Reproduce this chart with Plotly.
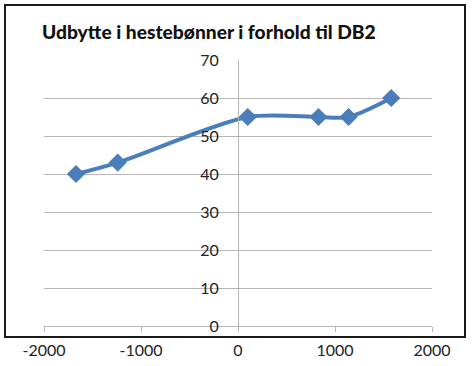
import plotly.graph_objects as go

x_vals = [-1670, -1240, 100, 830, 1140, 1580]
y_vals = [40, 43, 55, 55, 55, 60]
x_ticks = [-2000, -1000, 0, 1000, 2000]
x_tick_labels = ["-2000", "-1000", "0", "1000", "2000"]
y_ticks = [0, 10, 20, 30, 40, 50, 60, 70]
title_text = "Udbytte i hestebønner i forhold til DB2"

blue = "#4A7EBB"
grid = "#B5B5B5"

fig = go.Figure()
fig.add_trace(go.Scatter(
    x=x_vals, y=y_vals, mode="lines+markers",
    line=dict(color=blue, width=4, shape="spline", smoothing=0.8),
    marker=dict(symbol="diamond", size=14, color=blue),
    showlegend=False, cliponaxis=False,
))

fig.update_layout(
    width=472, height=366,
    margin=dict(l=44, r=40, t=60, b=40),
    paper_bgcolor="white", plot_bgcolor="white",
    title=dict(text=title_text, x=42/472, xanchor="left",
               y=1 - 32/366, yanchor="middle",
               font=dict(family="Lato", size=19.2, weight=900, color="#111")),
    font=dict(family="Lato", size=16, color="#222"),
    xaxis=dict(range=[-2000, 2000], tickvals=x_ticks, ticktext=x_tick_labels,
               showgrid=False, automargin=False,
               zeroline=False, showline=True, linecolor=grid, linewidth=1,
               ticks="outside", ticklen=5, tickcolor=grid,
               ticklabelstandoff=5),
    yaxis=dict(range=[0, 70], tickvals=y_ticks, showgrid=True, gridcolor=grid,
               gridwidth=1, zeroline=False, showline=True, linecolor=grid,
               linewidth=1, anchor="free", position=0.5, ticks="",
               automargin=False, ticklabelstandoff=16),
    shapes=[dict(type="rect", xref="paper", yref="paper",
                 x0=(5 - 44) / 388, x1=(465 - 44) / 388,
                 y0=(326 - 337) / 266, y1=(326 - 5) / 266,
                 line=dict(color="#1a1a1a", width=2), layer="below")],
)

fig.write_html("out.html", config={"displayModeBar": False},
               post_script="document.body.style.margin='0';document.body.style.padding='0';")
